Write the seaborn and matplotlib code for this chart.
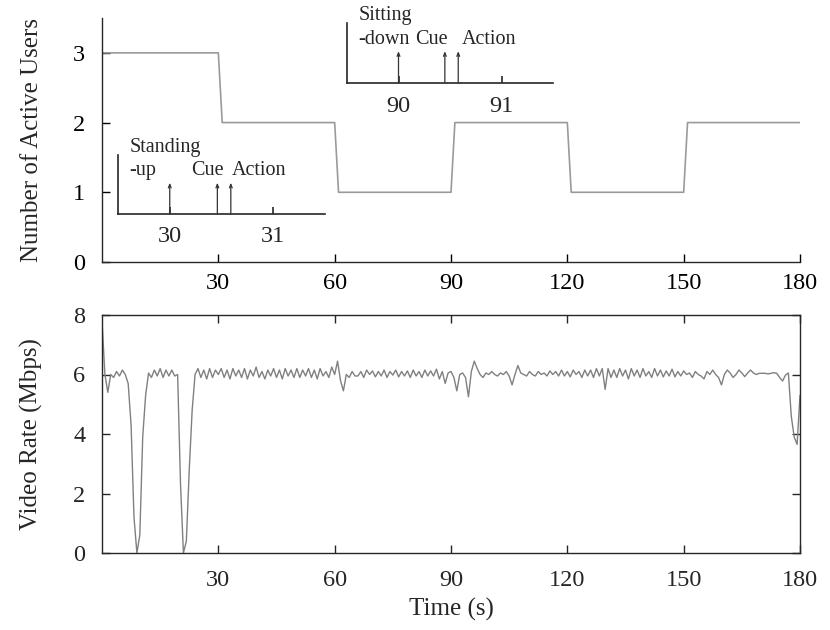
import numpy as np
import pandas as pd
import matplotlib
matplotlib.use("Agg")
import matplotlib.pyplot as plt
import seaborn as sns

# ---------------- data ----------------
# Top panel: number of active users (step changes)
user_time = [0, 30, 31, 60, 61, 90, 91, 120, 121, 150, 151, 180]
user_count = [3, 3, 2, 2, 1, 1, 2, 2, 1, 1, 2, 2]

# Bottom panel: video rate (Mbps), sampled every 0.75 s from 0 to 180 s
rate_step = 0.75
video_rate = [
    7.8, 6.0, 5.4, 6.0, 5.9, 6.1, 5.95, 6.15,        # 0 - 5.25
    6.0, 5.7, 4.3, 1.2, 0.0, 0.6, 3.9, 5.3,          # 6 - 11.25
    6.05, 5.9, 6.15, 5.95, 6.2, 5.9, 6.15, 5.95,     # 12
    6.15, 5.95, 6.0, 2.3, 0.0, 0.4, 2.8, 4.8,        # 18
    6.0, 6.2, 5.9, 6.15, 5.85, 6.2, 5.9, 6.15,       # 24
    6.0, 6.2, 5.9, 6.15, 5.85, 6.2, 5.95, 6.15,      # 30
    5.9, 6.2, 5.85, 6.15, 5.95, 6.25, 5.9, 6.1,      # 36
    5.85, 6.15, 5.95, 6.2, 5.9, 6.15, 5.85, 6.2,     # 42
    5.95, 6.15, 5.9, 6.2, 5.9, 6.15, 5.95, 6.2,      # 48
    5.9, 6.15, 5.85, 6.2, 5.95, 6.1, 5.9, 6.25,      # 54
    6.0, 6.45, 5.8, 5.45, 6.0, 5.9, 6.1, 5.95,       # 60
    5.95, 6.1, 5.9, 6.15, 6.0, 6.12, 5.92, 6.1,      # 66
    5.95, 6.15, 5.9, 6.1, 5.98, 6.15, 5.92, 6.1,     # 72
    5.95, 6.12, 5.9, 6.15, 5.95, 6.1, 5.9, 6.15,     # 78
    5.95, 6.12, 5.95, 6.18, 5.85, 6.1, 5.7, 6.05,    # 84
    6.1, 5.9, 5.45, 6.0, 6.05, 5.9, 5.25, 6.1,       # 90
    6.45, 6.2, 6.0, 5.9, 6.05, 6.0, 6.1, 6.0,        # 96
    5.95, 6.05, 6.0, 6.1, 5.95, 5.65, 6.0, 6.3,      # 102
    6.05, 6.0, 5.95, 6.1, 6.0, 5.95, 6.1, 6.0,       # 108
    6.05, 5.95, 6.12, 6.0, 6.1, 5.95, 6.15, 5.95,    # 114
    6.1, 5.92, 6.15, 6.0, 6.1, 5.9, 6.15, 5.95,      # 120
    6.15, 5.9, 6.2, 5.95, 6.2, 5.5, 6.2, 5.9,        # 126
    6.15, 5.9, 6.2, 5.95, 6.15, 5.85, 6.2, 5.95,     # 132
    6.15, 5.9, 6.2, 5.95, 6.1, 5.9, 6.2, 5.95,       # 138
    6.15, 5.92, 6.12, 5.95, 6.18, 5.92, 6.1, 5.95,   # 144
    6.12, 6.0, 6.05, 5.9, 6.1, 6.0, 5.95, 5.85,      # 150
    6.1, 6.0, 6.15, 6.0, 5.9, 5.65, 6.0, 6.15,       # 156
    6.05, 5.9, 6.0, 6.15, 6.05, 5.93, 6.05, 6.15,    # 162
    6.05, 6.0, 6.04, 6.04, 6.04, 6.02, 6.04, 6.06,   # 168
    6.04, 5.9, 5.78, 5.98, 6.05, 4.6, 3.9, 3.65,     # 174
    5.3,                                             # 180
]
rate_time = [round(i * rate_step, 2) for i in range(len(video_rate))]

time_ticks = [30, 60, 90, 120, 150, 180]
user_ticks = [0, 1, 2, 3]
rate_ticks = [0, 2, 4, 6, 8]

# Insets: event timing
stand_events = [30.0, 30.46, 30.59]
stand_ticks = [30, 31]
sit_events = [90.0, 90.45, 90.58]
sit_ticks = [90, 91]

# ---------------- style ----------------
sns.set_style("ticks")
plt.rcParams['font.family'] = ['Liberation Serif', 'DejaVu Serif']
plt.rcParams['axes.linewidth'] = 1.0
plt.rcParams['xtick.direction'] = 'in'
plt.rcParams['ytick.direction'] = 'in'

FS = 17.5
LFS = 18
W, H = 830, 630
fig = plt.figure(figsize=(W / 100, H / 100), dpi=100)


def fig_rect(x0, y0, x1, y1):
    # pixel box (left, top, right, bottom) -> figure fraction rect
    return [x0 / W, 1 - y1 / H, (x1 - x0) / W, (y1 - y0) / H]


ax1 = fig.add_axes(fig_rect(102, 18, 800, 262))
ax2 = fig.add_axes(fig_rect(102, 315, 800, 553))

users_df = pd.DataFrame({"t": user_time, "users": user_count})
rate_df = pd.DataFrame({"t": rate_time, "rate": video_rate})

sns.lineplot(data=users_df, x="t", y="users", ax=ax1, color="#9a9a9a",
             linewidth=1.2, sort=False)
sns.lineplot(data=rate_df, x="t", y="rate", ax=ax2, color="#808080",
             linewidth=1.0, sort=False)

# top panel
ax1.set_xlim(0, 180)
ax1.set_ylim(0, 3.5)
ax1.set_xticks(time_ticks)
ax1.set_yticks(user_ticks)
ax1.spines['top'].set_visible(False)
ax1.spines['right'].set_visible(False)
ax1.tick_params(axis='both', direction='in', length=6, width=1,
                labelsize=FS, colors='black')
ax1.tick_params(axis='x', pad=8)
ax1.tick_params(axis='y', pad=12)
ax1.set_xlabel("")
ax1.set_ylabel("Number of Active Users", fontsize=LFS)
ax1.yaxis.set_label_coords(-0.085, 0.5)

# bottom panel
ax2.set_xlim(0, 180)
ax2.set_ylim(0, 8)
ax2.set_xticks(time_ticks)
ax2.set_yticks(rate_ticks)
for s in ax2.spines.values():
    s.set_visible(True)
    s.set_linewidth(1.0)
ax2.tick_params(axis='both', direction='in', length=6, width=1,
                labelsize=FS, top=True, right=True)
ax2.tick_params(axis='x', pad=12)
ax2.tick_params(axis='y', pad=12)
ax2.set_xlabel("Time (s)", fontsize=LFS, labelpad=5)
ax2.set_ylabel("Video Rate (Mbps)", fontsize=LFS)
ax2.yaxis.set_label_coords(-0.085, 0.5)


def draw_inset(rect, events, ticks, line1, labels):
    ax = fig.add_axes(rect)
    ax.set_facecolor('none')
    ax.set_xlim(ticks[0] - 0.5, ticks[1] + 0.5)
    ax.set_ylim(0, 1)
    ax.spines['top'].set_visible(False)
    ax.spines['right'].set_visible(False)
    ax.spines['left'].set_linewidth(1.2)
    ax.spines['bottom'].set_linewidth(1.2)
    ax.set_xticks(ticks)
    ax.set_xticklabels([str(t) for t in ticks])
    ax.set_yticks([])
    ax.tick_params(axis='x', direction='in', length=5, width=1.2,
                   labelsize=FS, pad=9)
    tr = ax.get_xaxis_transform()
    for ev in events:
        ax.annotate('', xy=(ev, 0.53), xytext=(ev, 0.0),
                    arrowprops=dict(arrowstyle='->,head_length=0.25,head_width=0.1',
                                    lw=0.9, color='#333333',
                                    shrinkA=0, shrinkB=0))
    ax.text(ticks[0] - 0.39, 1.12, line1[0], fontsize=14.5, ha='left',
            va='center', transform=tr)
    ax.text(ticks[0] - 0.39, 0.73, line1[1], fontsize=14.5, ha='left',
            va='center', transform=tr)
    for lab, xpos in labels:
        ax.text(xpos, 0.73, lab, fontsize=14.5, ha='center',
                va='center', transform=tr)
    return ax


draw_inset(fig_rect(118, 155, 325, 214), stand_events, stand_ticks,
           ("Standing", "-up"), [("Cue", 30.36), ("Action", 30.865)])
draw_inset(fig_rect(347, 23, 553, 83), sit_events, sit_ticks,
           ("Sitting", "-down"), [("Cue", 90.32), ("Action", 90.88)])

fig.savefig("out.png", dpi=100)
